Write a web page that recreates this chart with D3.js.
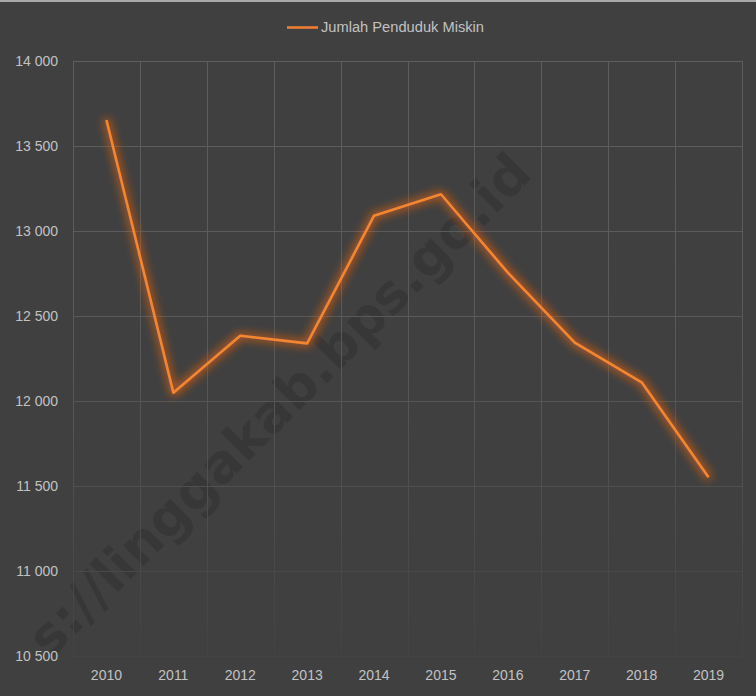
<!DOCTYPE html>
<html><head><meta charset="utf-8">
<script src="https://cdn.jsdelivr.net/npm/d3@7"></script>
<style>
html,body{margin:0;padding:0;background:#404040;}
svg{display:block;}
</style></head>
<body>
<script>
const years = ["2010","2011","2012","2013","2014","2015","2016","2017","2018","2019"];
const poorPopulation = [13653, 12049, 12384, 12339, 13090, 13216, 12755, 12343, 12110, 11551];
const yTicks = [10500, 11000, 11500, 12000, 12500, 13000, 13500, 14000];
const seriesName = "Jumlah Penduduk Miskin";
const watermark = "s://linggakab.bps.go.id";

const W = 756, H = 696;
const margin = {left: 73, right: 14, top: 61, bottom: 40};
const font = "'Liberation Sans',Arial,sans-serif";
const svg = d3.select("body").append("svg").attr("width", W).attr("height", H);

svg.append("rect").attr("width", W).attr("height", H).attr("fill", "#404040");
svg.append("rect").attr("width", W).attr("height", 2).attr("fill", "#a9a9a9");

const defs = svg.append("defs");
const g1 = defs.append("linearGradient").attr("id", "gridFade")
  .attr("gradientUnits", "userSpaceOnUse").attr("x1", 0).attr("y1", margin.top).attr("x2", 0).attr("y2", 650);
g1.append("stop").attr("offset", "0").attr("stop-color", "#5e5e5e");
g1.append("stop").attr("offset", "0.5").attr("stop-color", "#595959");
g1.append("stop").attr("offset", "1").attr("stop-color", "#434343");

const glow = defs.append("filter").attr("id", "glow")
  .attr("x", "-20%").attr("y", "-20%").attr("width", "140%").attr("height", "140%");
glow.append("feMorphology").attr("in", "SourceGraphic").attr("operator", "dilate").attr("radius", 1.5).attr("result", "d");
glow.append("feGaussianBlur").attr("in", "d").attr("stdDeviation", 4.5).attr("result", "b");
glow.append("feColorMatrix").attr("in", "b").attr("type", "matrix")
  .attr("values", "0.9 0 0 0 0  0 0.5 0 0 0  0 0 0.2 0 0  0 0 0 0.65 0").attr("result", "b2");
const fm = glow.append("feMerge");
fm.append("feMergeNode").attr("in", "b2");
fm.append("feMergeNode").attr("in", "SourceGraphic");

const x = d3.scaleBand().domain(years).range([margin.left, W - margin.right]);
const y = d3.scaleLinear().domain([10500, 14000]).range([656, margin.top]);

// watermark
svg.append("text")
  .attr("transform", "translate(534,176) rotate(-45)")
  .attr("text-anchor", "end")
  .attr("font-family", "'DejaVu Sans',Arial,sans-serif")
  .attr("font-weight", "bold")
  .attr("font-size", 53)
  .attr("fill", "#000").attr("fill-opacity", 0.13)
  .text(watermark);

// gridlines
const grid = svg.append("g").attr("stroke", "url(#gridFade)").attr("stroke-width", 1).attr("fill", "none");
grid.selectAll("line.h").data(yTicks).join("line").attr("class", "h")
  .attr("x1", margin.left).attr("x2", W - margin.right)
  .attr("y1", d => Math.round(y(d)) + 0.5).attr("y2", d => Math.round(y(d)) + 0.5);
const vEdges = years.map(d => x(d)).concat([x(years[years.length - 1]) + x.bandwidth()]);
grid.selectAll("line.v").data(vEdges).join("line").attr("class", "v")
  .attr("x1", d => Math.round(d) + 0.5).attr("x2", d => Math.round(d) + 0.5)
  .attr("y1", margin.top).attr("y2", 656);

// y axis
const yAxis = svg.append("g").attr("transform", `translate(58,0)`)
  .call(d3.axisLeft(y).tickValues(yTicks).tickSize(0).tickPadding(0)
    .tickFormat(d => d3.format(",")(d).replace(",", " ")));
yAxis.select(".domain").remove();
yAxis.selectAll("text").attr("font-family", font).attr("font-size", 14).attr("fill", "#c2c2c2");

// x axis
const xAxis = svg.append("g").attr("transform", `translate(0,668)`)
  .call(d3.axisBottom(x).tickSize(0).tickPadding(2));
xAxis.select(".domain").remove();
xAxis.selectAll("text").attr("font-family", font).attr("font-size", 14).attr("fill", "#c2c2c2");

// line
const line = d3.line().x((d, i) => x(years[i]) + x.bandwidth() / 2).y(d => y(d));
svg.append("path").datum(poorPopulation)
  .attr("d", line).attr("fill", "none")
  .attr("stroke", "#f3862f").attr("stroke-width", 2.6)
  .attr("stroke-linejoin", "round")
  .attr("filter", "url(#glow)");

// legend
const lg = svg.append("g");
lg.append("line").attr("x1", 287).attr("x2", 318).attr("y1", 27.5).attr("y2", 27.5)
  .attr("stroke", "#ee7d31").attr("stroke-width", 2.6);
lg.append("text").attr("x", 321).attr("y", 32)
  .attr("font-family", font).attr("font-size", 14).attr("fill", "#c2c2c2")
  .attr("textLength", 163).attr("lengthAdjust", "spacingAndGlyphs").text(seriesName);
</script>
</body></html>
